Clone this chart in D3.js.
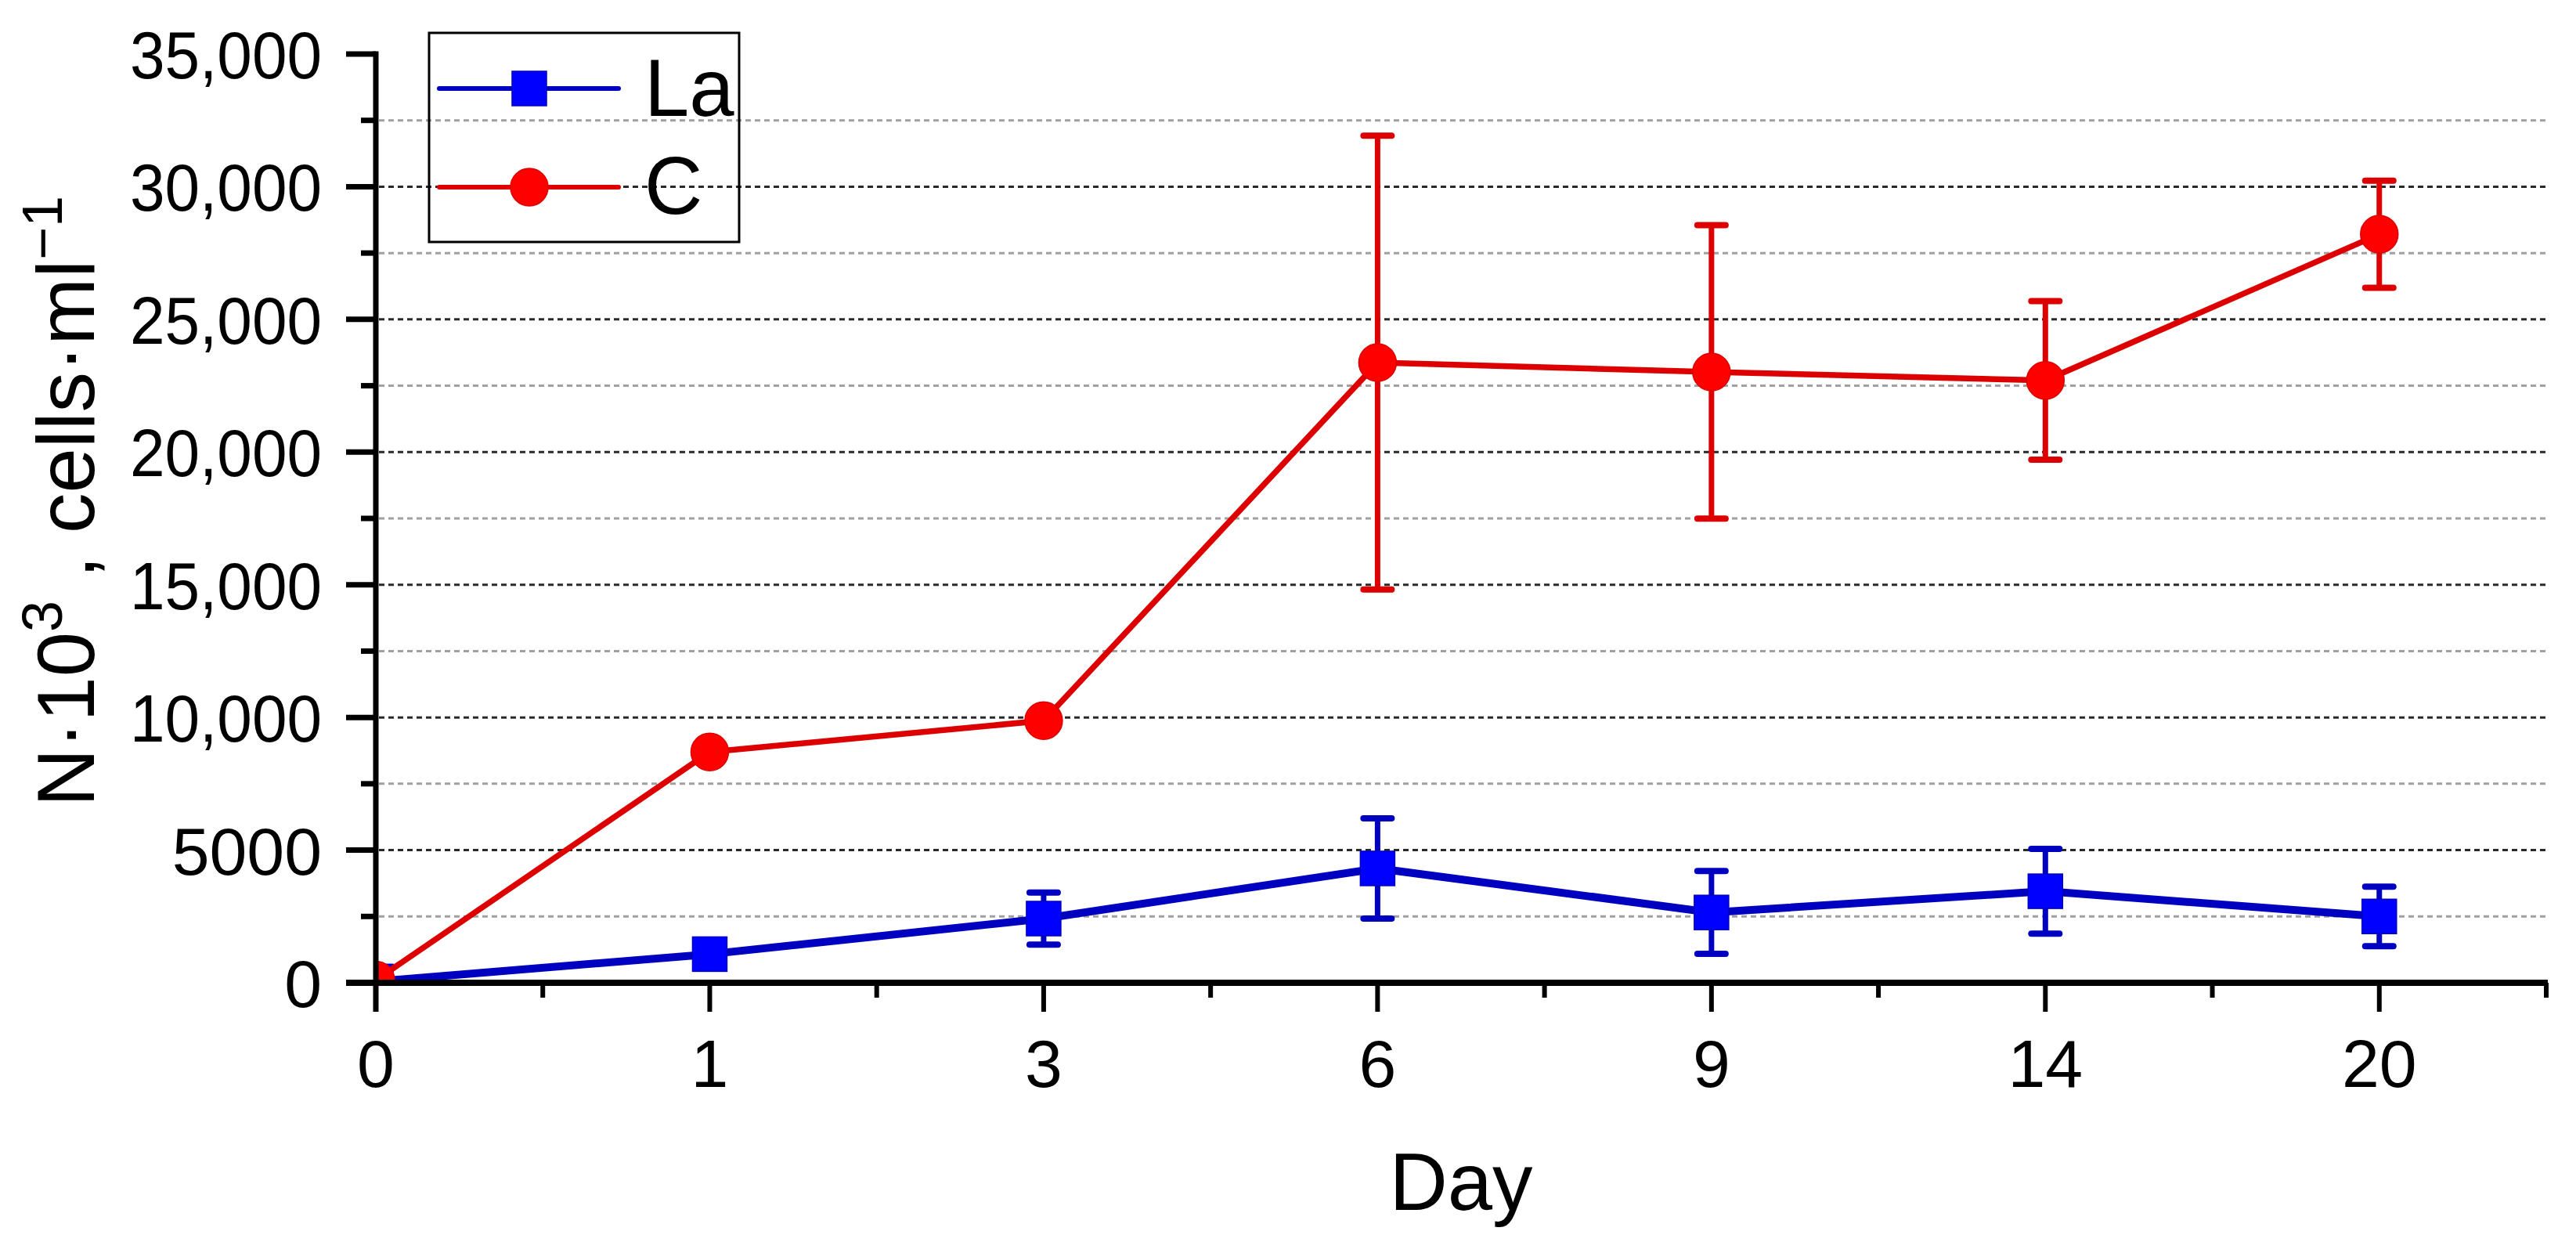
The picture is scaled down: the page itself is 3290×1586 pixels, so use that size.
<!DOCTYPE html>
<html>
<head>
<meta charset="utf-8">
<script src="https://cdn.jsdelivr.net/npm/d3@7"></script>
<style>
  html, body { margin: 0; padding: 0; background: #ffffff; }
  svg { display: block; }
  text { font-family: "Liberation Sans", Arial, sans-serif; fill: #000; }
</style>
</head>
<body>
<svg id="chart" width="3290" height="1586"></svg>
<script>
// ---- data ----
const days = ["0", "1", "3", "6", "9", "14", "20"];
const seriesNames = ["La", "C"];
const laMean = [50, 1080, 2420, 4310, 2650, 3450, 2500];
const laErr  = [0, 620, 980, 1890, 1560, 1600, 1120];
const cMean  = [100, 8700, 9880, 23370, 23020, 22700, 28210];
const cErr   = [0, 650, 600, 8550, 5530, 2990, 2020];
const yMajorTicks = [0, 5000, 10000, 15000, 20000, 25000, 30000, 35000];
const yTickLabels = ["0", "5000", "10,000", "15,000", "20,000", "25,000", "30,000", "35,000"];
const yMinorTicks = [2500, 7500, 12500, 17500, 22500, 27500, 32500];
const xTitle = "Day";

(function () {
// ---- layout ----
const svg = d3.select("#chart");
const pLeft = 480, pRight = 3252, pTop = 69, pBottom = 1255;
const x = d3.scaleLinear().domain([0, 6.5]).range([pLeft, pRight]);
const y = d3.scaleLinear().domain([0, 35000]).range([pBottom, pTop]);

const red = "#dd0000", redFill = "#ff0000";
const blue = "#0000c0", blueFill = "#0000ff";

// gridlines
const grid = svg.append("g");
grid.selectAll("line.major").data(yMajorTicks.filter(v => v > 0 && v < 35000)).enter()
  .append("line").attr("x1", pLeft + 4).attr("x2", pRight)
  .attr("y1", d => y(d)).attr("y2", d => y(d))
  .attr("stroke", "#2a2a2a").attr("stroke-width", 3).attr("stroke-dasharray", "7,5");
grid.selectAll("line.minor").data(yMinorTicks).enter()
  .append("line").attr("x1", pLeft + 4).attr("x2", pRight)
  .attr("y1", d => y(d)).attr("y2", d => y(d))
  .attr("stroke", "#a0a0a0").attr("stroke-width", 3).attr("stroke-dasharray", "7,5");

// clip
svg.append("defs").append("clipPath").attr("id", "plotclip")
  .append("rect").attr("x", pLeft).attr("y", 0).attr("width", pRight - pLeft + 40).attr("height", pBottom);

const plot = svg.append("g").attr("clip-path", "url(#plotclip)");

function drawSeries(means, errs, lineColor, fillColor, lineWidth, shape) {
  const pts = means.map((v, i) => ({ i, v, e: errs[i] }));
  const line = d3.line().x(d => x(d.i)).y(d => y(d.v));
  plot.append("path").datum(pts).attr("d", line)
    .attr("fill", "none").attr("stroke", lineColor).attr("stroke-width", lineWidth)
    .attr("stroke-linejoin", "round");
  const eg = plot.append("g");
  pts.filter(d => d.e > 0).forEach(d => {
    eg.append("line").attr("x1", x(d.i)).attr("x2", x(d.i))
      .attr("y1", y(d.v + d.e)).attr("y2", y(d.v - d.e))
      .attr("stroke", lineColor).attr("stroke-width", 7);
    const hidden = (y(0) - y(d.e)) < 26;
    if (!hidden) {
      [d.v + d.e, d.v - d.e].forEach(val => {
        eg.append("line").attr("x1", x(d.i) - 18).attr("x2", x(d.i) + 18)
          .attr("y1", y(val)).attr("y2", y(val))
          .attr("stroke", lineColor).attr("stroke-width", 8).attr("stroke-linecap", "round");
      });
    }
  });
  const mg = plot.append("g");
  if (shape === "square") {
    mg.selectAll("rect").data(pts).enter().append("rect")
      .attr("x", d => x(d.i) - 22).attr("y", d => y(d.v) - 22)
      .attr("width", 44).attr("height", 44)
      .attr("fill", fillColor).attr("stroke", lineColor).attr("stroke-width", 1.5);
  } else {
    mg.selectAll("circle").data(pts).enter().append("circle")
      .attr("cx", d => x(d.i)).attr("cy", d => y(d.v)).attr("r", 24)
      .attr("fill", fillColor).attr("stroke", lineColor).attr("stroke-width", 1.5);
  }
}

drawSeries(laMean, laErr, blue, blueFill, 10, "square");
drawSeries(cMean, cErr, red, redFill, 7.5, "circle");

// ---- axes ----
const ax = svg.append("g");
ax.append("line").attr("x1", pLeft).attr("x2", pLeft).attr("y1", pTop - 3.5).attr("y2", pBottom + 37)
  .attr("stroke", "#000").attr("stroke-width", 7);
ax.append("line").attr("x1", pLeft - 38).attr("x2", pRight + 2).attr("y1", pBottom).attr("y2", pBottom)
  .attr("stroke", "#000").attr("stroke-width", 8);

ax.selectAll("line.ymaj").data(yMajorTicks).enter().append("line")
  .attr("x1", pLeft - 38).attr("x2", pLeft).attr("y1", d => y(d)).attr("y2", d => y(d))
  .attr("stroke", "#000").attr("stroke-width", 7);
ax.selectAll("line.ymin").data(yMinorTicks).enter().append("line")
  .attr("x1", pLeft - 19).attr("x2", pLeft).attr("y1", d => y(d)).attr("y2", d => y(d))
  .attr("stroke", "#000").attr("stroke-width", 7);
ax.selectAll("text.ylab").data(yMajorTicks).enter().append("text")
  .attr("x", 411).attr("y", d => y(d)).attr("dy", "0.36em")
  .attr("text-anchor", "end").attr("font-size", 86)
  .attr("textLength", (d, i) => yTickLabels[i].length >= 6 ? 245 : null)
  .attr("lengthAdjust", "spacingAndGlyphs")
  .text((d, i) => yTickLabels[i]);

const xMajor = days.map((d, i) => i);
const xMinor = days.map((d, i) => i + 0.5);
ax.selectAll("line.xmaj").data(xMajor).enter().append("line")
  .attr("x1", d => x(d)).attr("x2", d => x(d)).attr("y1", pBottom).attr("y2", pBottom + 37)
  .attr("stroke", "#000").attr("stroke-width", 6);
ax.selectAll("line.xmin").data(xMinor).enter().append("line")
  .attr("x1", d => x(d)).attr("x2", d => x(d)).attr("y1", pBottom).attr("y2", pBottom + 19)
  .attr("stroke", "#000").attr("stroke-width", 6);
ax.selectAll("text.xlab").data(xMajor).enter().append("text")
  .attr("x", d => x(d)).attr("y", 1388)
  .attr("text-anchor", "middle").attr("font-size", 86)
  .text(d => days[d]);

svg.append("text").attr("x", (pLeft + pRight) / 2).attr("y", 1545)
  .attr("text-anchor", "middle").attr("font-size", 103).text(xTitle);

const yt = svg.append("text").attr("transform", "translate(120,640) rotate(-90)")
  .attr("text-anchor", "middle").attr("font-size", 103);
yt.append("tspan").text("N·10");
yt.append("tspan").attr("font-size", 72).attr("dy", -41).text("3");
yt.append("tspan").attr("dy", 41).text(" , cells·ml");
yt.append("tspan").attr("font-size", 72).attr("dy", -41).text("−1");

// ---- legend ----
const lg = svg.append("g");
lg.append("rect").attr("x", 548).attr("y", 42).attr("width", 396).attr("height", 267)
  .attr("fill", "none").attr("stroke", "#000").attr("stroke-width", 3);
const legendRows = [
  { name: seriesNames[0], color: blue, fill: blueFill, shape: "square", y: 113, base: 148 },
  { name: seriesNames[1], color: red, fill: redFill, shape: "circle", y: 239, base: 273 }
];
legendRows.forEach(r => {
  lg.append("line").attr("x1", 561).attr("x2", 790).attr("y1", r.y).attr("y2", r.y)
    .attr("stroke", r.color).attr("stroke-width", 6).attr("stroke-linecap", "round");
  if (r.shape === "square") {
    lg.append("rect").attr("x", 676 - 22).attr("y", r.y - 22).attr("width", 44).attr("height", 44)
      .attr("fill", r.fill).attr("stroke", r.color).attr("stroke-width", 1.5);
  } else {
    lg.append("circle").attr("cx", 676).attr("cy", r.y).attr("r", 24)
      .attr("fill", r.fill).attr("stroke", r.color).attr("stroke-width", 1.5);
  }
  lg.append("text").attr("x", 823).attr("y", r.base).attr("font-size", 103).text(r.name);
});
})();
</script>
</body>
</html>
